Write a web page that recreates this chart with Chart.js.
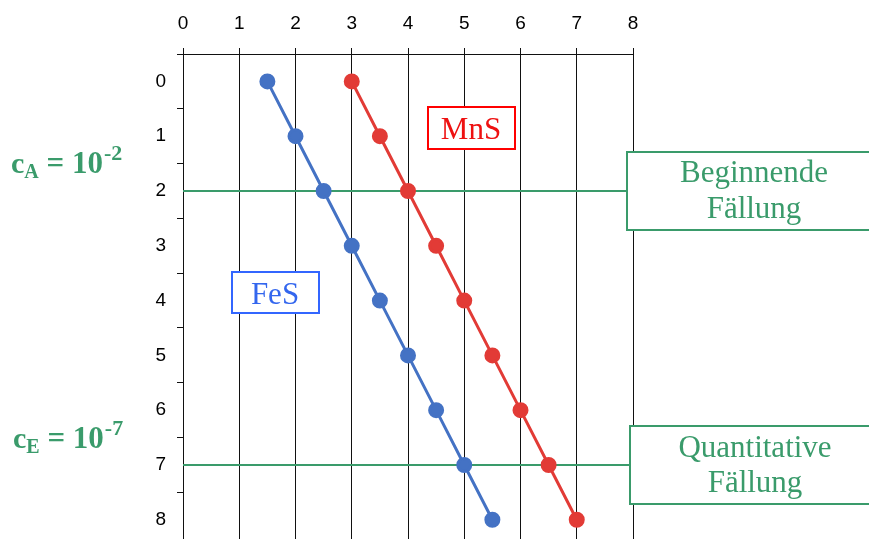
<!DOCTYPE html>
<html>
<head>
<meta charset="utf-8">
<script src="https://cdn.jsdelivr.net/npm/chart.js@4.4.1/dist/chart.umd.min.js"></script>
<style>
  html, body { margin: 0; padding: 0; background: #fff; overflow: hidden; }
  #wrap { width: 869px; height: 549px; position: relative; }
</style>
</head>
<body>
<div id="wrap"><canvas id="chart"></canvas></div>
<script>
// values
const levels = [0, 1, 2, 3, 4, 5, 6, 7, 8];
const fesX = [1.5, 2, 2.5, 3, 3.5, 4, 4.5, 5, 5.5];
const mnsX = [3, 3.5, 4, 4.5, 5, 5.5, 6, 6.5, 7];
const xTicks = [0, 1, 2, 3, 4, 5, 6, 7, 8];
const yTicks = [-0.5, 0, 0.5, 1, 1.5, 2, 2.5, 3, 3.5, 4, 4.5, 5, 5.5, 6, 6.5, 7, 7.5, 8];
const startLevel = 2;   // c_A = 10^-2
const endLevel = 7;     // c_E = 10^-7

const GREEN = '#3a9b6b';
const SERIF = "'Liberation Serif', 'Times New Roman', serif";
const SANS = "'Liberation Sans', Arial, Helvetica, sans-serif";

const toPoints = xs => xs.map((x, i) => ({ x: x, y: levels[i] }));
const hLine = lvl => [{ x: xTicks[0], y: lvl }, { x: xTicks[xTicks.length - 1], y: lvl }];

function drawBox(ctx, x, y, w, h, color, lines, textColor) {
  ctx.save();
  ctx.fillStyle = '#fff';
  ctx.fillRect(x, y, w, h);
  ctx.strokeStyle = color;
  ctx.lineWidth = 2;
  ctx.strokeRect(x, y, w, h);
  ctx.fillStyle = textColor;
  ctx.font = '31px ' + SERIF;
  ctx.textAlign = 'center';
  ctx.textBaseline = 'alphabetic';
  lines.forEach(t => ctx.fillText(t.text, t.cx, t.base));
  ctx.restore();
}

function drawConc(ctx, x, base, sub, sup) {
  ctx.save();
  ctx.fillStyle = GREEN;
  ctx.textBaseline = 'alphabetic';
  ctx.textAlign = 'left';
  ctx.font = 'bold 30px ' + SERIF;
  ctx.fillText('c', x, base);
  x += ctx.measureText('c').width;
  ctx.font = 'bold 20px ' + SERIF;
  ctx.fillText(sub, x, base + 5);
  x += ctx.measureText(sub).width;
  ctx.font = 'bold 31px ' + SERIF;
  const mid = ' = 10';
  ctx.fillText(mid, x, base);
  x += ctx.measureText(mid).width;
  ctx.font = 'bold 22px ' + SERIF;
  ctx.fillText(sup, x + 1, base - 13);
  ctx.restore();
}

const labelsPlugin = {
  id: 'labels',
  afterDraw(chart) {
    const ctx = chart.ctx;
    drawBox(ctx, 428, 107, 87, 42, '#ff0000', [{ text: 'MnS', cx: 471, base: 139 }], '#ee1111');
    drawBox(ctx, 232, 272, 87, 41, '#3366ff', [{ text: 'FeS', cx: 275, base: 304 }], '#3366ee');
    drawBox(ctx, 627, 152, 260, 78, GREEN,
      [{ text: 'Beginnende', cx: 754, base: 182 }, { text: 'Fällung', cx: 754, base: 218 }], GREEN);
    drawBox(ctx, 630, 426, 260, 78, GREEN,
      [{ text: 'Quantitative', cx: 755, base: 457 }, { text: 'Fällung', cx: 755, base: 492 }], GREEN);
    drawConc(ctx, 11, 173, 'A', '-2');
    drawConc(ctx, 13, 448, 'E', '-7');
  }
};

new Chart(document.getElementById('chart'), {
  type: 'scatter',
  data: {
    datasets: [
      {
        label: 'FeS',
        data: toPoints(fesX),
        showLine: true,
        borderColor: '#4472c4',
        backgroundColor: '#4472c4',
        borderWidth: 3,
        pointRadius: 6.5,
        pointHoverRadius: 6.5
      },
      {
        label: 'MnS',
        data: toPoints(mnsX),
        showLine: true,
        borderColor: '#e23b36',
        backgroundColor: '#e23b36',
        borderWidth: 3,
        pointRadius: 6.5,
        pointHoverRadius: 6.5
      },
      {
        label: 'Beginnende Fällung',
        data: hLine(startLevel),
        showLine: true,
        borderColor: GREEN,
        borderWidth: 2,
        pointRadius: 0
      },
      {
        label: 'Quantitative Fällung',
        data: hLine(endLevel),
        showLine: true,
        borderColor: GREEN,
        borderWidth: 2,
        pointRadius: 0
      }
    ]
  },
  options: {
    responsive: true,
    maintainAspectRatio: false,
    animation: false,
    layout: { padding: { left: 0, top: 0, right: 236, bottom: 0 } },
    plugins: {
      legend: { display: false },
      tooltip: { enabled: false }
    },
    scales: {
      x: {
        position: 'top',
        min: 0,
        max: 8,
        afterBuildTicks: s => { s.ticks = xTicks.map(v => ({ value: v })); },
        afterFit: s => { s.height = 54; s.paddingLeft = 0; s.paddingRight = 0; },
        border: { display: true, color: '#111', width: 1 },
        grid: { color: '#111', lineWidth: 1, tickLength: 6, drawTicks: true },
        ticks: { color: '#000', font: { family: SANS, size: 19 }, padding: 13, maxRotation: 0 }
      },
      y: {
        reverse: true,
        min: -0.5,
        max: 8.36,
        afterBuildTicks: s => { s.ticks = yTicks.map(v => ({ value: v })); },
        afterFit: s => { s.width = 183; s.paddingTop = 0; s.paddingBottom = 0; },
        border: { display: true, color: '#111', width: 1 },
        grid: {
          drawOnChartArea: false,
          tickLength: 6,
          tickColor: c => Number.isInteger(c.tick.value) ? 'rgba(0,0,0,0)' : '#111'
        },
        ticks: {
          color: '#000',
          font: { family: SANS, size: 19 },
          padding: 11,
          callback: v => Number.isInteger(v) ? String(v) : ''
        }
      }
    }
  },
  plugins: [labelsPlugin]
});
</script>
</body>
</html>
